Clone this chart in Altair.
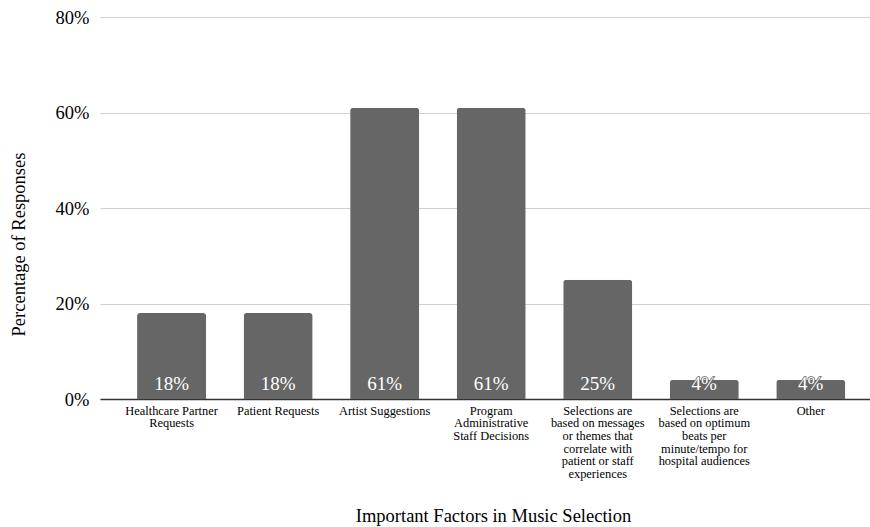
import altair as alt
import pandas as pd

# Survey responses: factors considered when selecting music
categories = [
    "Healthcare Partner\nRequests",
    "Patient Requests",
    "Artist Suggestions",
    "Program\nAdministrative\nStaff Decisions",
    "Selections are\nbased on messages\nor themes that\ncorrelate with\npatient or staff\nexperiences",
    "Selections are\nbased on optimum\nbeats per\nminute/tempo for\nhospital audiences",
    "Other",
]
shares = [0.18, 0.18, 0.61, 0.61, 0.25, 0.04, 0.04]
y_ticks = [0, 0.2, 0.4, 0.6, 0.8]

df = pd.DataFrame({"factor": categories, "share": shares})

FONT = "Liberation Serif"
BAR = "#666666"

x_enc = alt.X(
    "factor:N",
    sort=categories,
    scale=alt.Scale(paddingInner=0.352, paddingOuter=0.29, align=0.6),
    axis=alt.Axis(
        title="Important Factors in Music Selection",
        titleFont=FONT,
        titleFontSize=18.5,
        titleFontWeight="normal",
        titleColor="#000000",
        titleX=393,
        titleY=122,
        titleBaseline="alphabetic",
        labelExpr="split(datum.label, '\\n')",
        labelFont=FONT,
        labelFontSize=12.4,
        labelLineHeight=12.7,
        labelColor="#000000",
        labelAngle=0,
        labelBaseline="top",
        labelPadding=5,
        labelLimit=0,
        ticks=False,
        domainColor="#333333",
        domainWidth=1.5,
    ),
)

y_enc = alt.Y(
    "share:Q",
    scale=alt.Scale(domain=[0, 0.8], nice=False),
    axis=alt.Axis(
        title="Percentage of Responses",
        titleFont=FONT,
        titleFontSize=18.5,
        titleFontWeight="normal",
        titleColor="#000000",
        titleX=-82,
        titleY=227,
        titleAngle=-90,
        titleBaseline="middle",
        titleAlign="center",
        values=y_ticks,
        format=".0%",
        labelFont=FONT,
        labelFontSize=18.5,
        labelColor="#000000",
        labelPadding=11,
        ticks=False,
        domain=False,
        gridColor="#d0d0d0",
        gridWidth=1,
    ),
)

bars = alt.Chart(df).mark_bar(
    color=BAR, cornerRadiusTopLeft=3, cornerRadiusTopRight=3
).encode(x=x_enc, y=y_enc)

label_enc = dict(
    x=alt.X("factor:N", sort=categories),
    y=alt.datum(0),
    text=alt.Text("share:Q", format=".0%"),
)
label_style = dict(
    font=FONT, fontSize=19, baseline="alphabetic", align="center", dy=-9
)

# grey halo underneath, white glyphs on top
label_halo = alt.Chart(df).mark_text(
    color=BAR, stroke=BAR, strokeWidth=1.6, **label_style
).encode(**label_enc)
labels = alt.Chart(df).mark_text(color="#ffffff", **label_style).encode(**label_enc)

chart = (
    alt.layer(bars, label_halo, labels)
    .properties(
        width=770,
        height=382,
        autosize=alt.AutoSizeParams(type="none"),
        padding={"left": 100, "top": 17, "right": 0, "bottom": 128},
        background="#ffffff",
    )
    .configure_view(stroke=None)
)

chart.save("out.html", embed_options={"renderer": "svg", "actions": False})
